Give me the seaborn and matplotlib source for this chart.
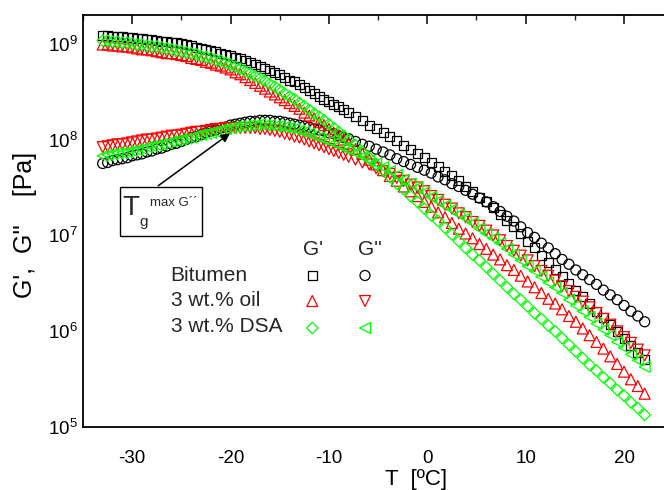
import matplotlib
matplotlib.use("Agg")
import numpy as np
import pandas as pd
import matplotlib.pyplot as plt
import seaborn as sns
from matplotlib.patches import Rectangle
from matplotlib.ticker import LogLocator, MultipleLocator, NullFormatter

# Temperature sweep [ºC]
temperature = [
    -33.0, -32.5, -32.0, -31.5, -31.0, -30.5, -30.0, -29.5, -29.0, -28.5,
    -28.0, -27.5, -27.0, -26.5, -26.0, -25.5, -25.0, -24.5, -24.0, -23.5,
    -23.0, -22.5, -22.0, -21.5, -21.0, -20.5, -20.0, -19.5, -19.0, -18.5,
    -18.0, -17.5, -17.0, -16.5, -16.0, -15.5, -15.0, -14.5, -14.0, -13.5,
    -13.0, -12.5, -12.0, -11.5, -11.0, -10.5, -10.0, -9.5, -9.0, -8.5, -8.0,
    -7.3, -6.6, -5.9, -5.2, -4.5, -3.8, -3.1, -2.4, -1.7, -1.0,
    -0.3, 0.4, 1.1, 1.8, 2.5, 3.2, 3.9, 4.6, 5.3, 6.0,
    6.7, 7.4, 8.1, 8.8, 9.5, 10.2, 10.9, 11.6, 12.3, 13.0,
    13.7, 14.4, 15.1, 15.8, 16.5, 17.2, 17.9, 18.6, 19.3, 20.0,
    20.7, 21.4, 22.1,
]

# log10 of the moduli [Pa]
bitumen_gp_log = [
    9.08, 9.08, 9.07, 9.07, 9.07, 9.06, 9.06, 9.05, 9.05, 9.04,
    9.04, 9.03, 9.02, 9.02, 9.01, 9.01, 9.00, 8.99, 8.98, 8.96,
    8.95, 8.94, 8.93, 8.92, 8.90, 8.89, 8.88, 8.86, 8.84, 8.82,
    8.80, 8.78, 8.76, 8.74, 8.72, 8.70, 8.68, 8.65, 8.62, 8.60,
    8.57, 8.54, 8.51, 8.48, 8.45, 8.42, 8.40, 8.37, 8.34, 8.31, 8.28,
    8.24, 8.20, 8.15, 8.11, 8.07, 8.03, 7.99, 7.94, 7.90, 7.85,
    7.81, 7.76, 7.72, 7.67, 7.62, 7.57, 7.51, 7.46, 7.40, 7.35,
    7.29, 7.22, 7.16, 7.09, 7.02, 6.94, 6.87, 6.79, 6.72, 6.65,
    6.57, 6.50, 6.43, 6.36, 6.29, 6.21, 6.14, 6.07, 6.00, 5.93,
    5.85, 5.78, 5.71,
]
bitumen_gpp_log = [
    7.75, 7.76, 7.78, 7.79, 7.80, 7.81, 7.83, 7.84, 7.85, 7.87,
    7.88, 7.90, 7.91, 7.93, 7.95, 7.96, 7.98, 8.00, 8.02, 8.03,
    8.05, 8.07, 8.09, 8.10, 8.12, 8.13, 8.15, 8.16, 8.17, 8.18,
    8.19, 8.19, 8.20, 8.20, 8.20, 8.19, 8.19, 8.18, 8.17, 8.16,
    8.15, 8.14, 8.13, 8.11, 8.10, 8.09, 8.07, 8.06, 8.04, 8.02, 8.01,
    7.98, 7.95, 7.93, 7.90, 7.87, 7.84, 7.80, 7.77, 7.74, 7.71,
    7.68, 7.65, 7.61, 7.58, 7.54, 7.51, 7.47, 7.43, 7.39, 7.35,
    7.30, 7.25, 7.20, 7.15, 7.09, 7.03, 6.98, 6.92, 6.87, 6.81,
    6.75, 6.70, 6.64, 6.59, 6.54, 6.49, 6.43, 6.38, 6.33, 6.27,
    6.21, 6.16, 6.10,
]
oil_gp_log = [
    8.99, 8.99, 8.98, 8.98, 8.97, 8.97, 8.96, 8.95, 8.94, 8.94,
    8.93, 8.92, 8.91, 8.90, 8.90, 8.89, 8.88, 8.87, 8.85, 8.84,
    8.83, 8.81, 8.80, 8.78, 8.77, 8.75, 8.73, 8.70, 8.68, 8.65,
    8.62, 8.59, 8.56, 8.53, 8.50, 8.47, 8.44, 8.41, 8.38, 8.35,
    8.32, 8.28, 8.25, 8.22, 8.18, 8.15, 8.11, 8.07, 8.04, 8.00, 7.96,
    7.90, 7.85, 7.79, 7.74, 7.68, 7.62, 7.57, 7.51, 7.46, 7.41,
    7.35, 7.30, 7.24, 7.19, 7.13, 7.07, 7.02, 6.97, 6.91, 6.86,
    6.80, 6.75, 6.69, 6.64, 6.58, 6.52, 6.46, 6.40, 6.34, 6.29,
    6.23, 6.16, 6.10, 6.03, 5.96, 5.89, 5.82, 5.74, 5.66, 5.58,
    5.50, 5.43, 5.35,
]
oil_gpp_log = [
    7.92, 7.93, 7.94, 7.95, 7.95, 7.96, 7.97, 7.98, 7.99, 8.00,
    8.00, 8.01, 8.02, 8.03, 8.04, 8.04, 8.05, 8.06, 8.07, 8.08,
    8.08, 8.09, 8.10, 8.11, 8.11, 8.12, 8.12, 8.12, 8.12, 8.12,
    8.12, 8.12, 8.11, 8.11, 8.10, 8.09, 8.08, 8.06, 8.05, 8.03,
    8.02, 8.00, 7.98, 7.96, 7.94, 7.92, 7.90, 7.88, 7.86, 7.84, 7.82,
    7.79, 7.76, 7.74, 7.70, 7.67, 7.64, 7.60, 7.57, 7.53, 7.50,
    7.46, 7.41, 7.37, 7.32, 7.28, 7.23, 7.19, 7.14, 7.10, 7.05,
    7.00, 6.95, 6.89, 6.84, 6.79, 6.74, 6.68, 6.63, 6.58, 6.53,
    6.47, 6.42, 6.36, 6.31, 6.25, 6.19, 6.13, 6.07, 6.00, 5.94,
    5.88, 5.81, 5.75,
]
dsa_gp_log = [
    9.03, 9.03, 9.02, 9.02, 9.01, 9.01, 9.00, 8.99, 8.99, 8.98,
    8.97, 8.97, 8.96, 8.95, 8.94, 8.93, 8.92, 8.91, 8.90, 8.89,
    8.87, 8.86, 8.85, 8.83, 8.82, 8.80, 8.78, 8.76, 8.74, 8.71,
    8.69, 8.66, 8.64, 8.61, 8.58, 8.55, 8.52, 8.48, 8.45, 8.42,
    8.38, 8.35, 8.31, 8.27, 8.24, 8.20, 8.16, 8.12, 8.08, 8.04, 8.00,
    7.94, 7.87, 7.81, 7.74, 7.68, 7.61, 7.54, 7.48, 7.41, 7.35,
    7.28, 7.21, 7.15, 7.08, 7.01, 6.94, 6.87, 6.80, 6.74, 6.67,
    6.60, 6.53, 6.46, 6.39, 6.33, 6.26, 6.19, 6.13, 6.06, 6.00,
    5.93, 5.86, 5.79, 5.72, 5.65, 5.59, 5.52, 5.46, 5.39, 5.33,
    5.26, 5.20, 5.13,
]
dsa_gpp_log = [
    7.83, 7.84, 7.85, 7.86, 7.86, 7.87, 7.88, 7.89, 7.90, 7.92,
    7.93, 7.94, 7.95, 7.96, 7.98, 7.99, 8.00, 8.01, 8.02, 8.04,
    8.05, 8.06, 8.07, 8.08, 8.10, 8.11, 8.12, 8.13, 8.14, 8.14,
    8.15, 8.15, 8.16, 8.15, 8.15, 8.14, 8.14, 8.13, 8.12, 8.11,
    8.09, 8.08, 8.06, 8.04, 8.02, 8.00, 7.98, 7.96, 7.94, 7.91, 7.89,
    7.86, 7.82, 7.78, 7.75, 7.71, 7.67, 7.63, 7.58, 7.54, 7.50,
    7.45, 7.40, 7.36, 7.31, 7.27, 7.22, 7.18, 7.13, 7.07, 7.02,
    6.97, 6.92, 6.86, 6.80, 6.74, 6.68, 6.63, 6.57, 6.51, 6.46,
    6.40, 6.33, 6.27, 6.21, 6.15, 6.08, 6.02, 5.96, 5.89, 5.83,
    5.76, 5.70, 5.63,
]

sample_labels = ["Bitumen", "3 wt.% oil", "3 wt.% DSA"]
modulus_labels = ["G'", "G''"]
x_ticks = [-30, -20, -10, 0, 10, 20]

# (sample, modulus, values, marker, colour, marker area)
series = [
    ("Bitumen", "G'", bitumen_gp_log, "s", "black", 42),
    ("Bitumen", "G''", bitumen_gpp_log, "o", "black", 52),
    ("3 wt.% oil", "G'", oil_gp_log, "^", "#ff0000", 62),
    ("3 wt.% oil", "G''", oil_gpp_log, "v", "#ff0000", 62),
    ("3 wt.% DSA", "G'", dsa_gp_log, "D", "#00ff00", 34),
    ("3 wt.% DSA", "G''", dsa_gpp_log, "<", "#00ff00", 62),
]

frames = []
for sample, modulus, vals, *_ in series:
    frames.append(pd.DataFrame({
        "T": temperature,
        "G": np.power(10.0, vals),
        "sample": sample,
        "modulus": modulus,
    }))
df = pd.concat(frames, ignore_index=True)

sns.set_theme(style="white")
plt.rcParams["font.family"] = ["Liberation Sans", "DejaVu Sans"]
plt.rcParams["mathtext.fontset"] = "custom"
plt.rcParams["mathtext.rm"] = "Liberation Sans"
plt.rcParams["mathtext.default"] = "regular"

W, H = 664, 490
fig = plt.figure(figsize=(W / 100, H / 100), dpi=100)
fig.patch.set_facecolor("white")
ax = fig.add_axes([83 / W, 1 - 427.3 / H, (673.2 - 83) / W, (427.3 - 14.7) / H])
ax.set_facecolor("white")

for sample, modulus, vals, marker, color, size in series:
    sub = df[(df["sample"] == sample) & (df["modulus"] == modulus)]
    sns.scatterplot(data=sub, x="T", y="G", ax=ax, marker=marker, s=size,
                    color=color, facecolor="none", edgecolor=color,
                    linewidth=0.9, legend=False, zorder=3)

ax.set_yscale("log")
ax.set_xlim(-35, 25)
ax.set_ylim(1e5, 2e9)
ax.set_xticks(x_ticks)
ax.set_xticklabels([str(t) for t in x_ticks])
ax.xaxis.set_minor_locator(MultipleLocator(5))
ax.yaxis.set_major_locator(LogLocator(base=10, numticks=10))
ax.yaxis.set_minor_locator(LogLocator(base=10, subs=np.arange(2, 10), numticks=20))
ax.yaxis.set_minor_formatter(NullFormatter())

for sp in ax.spines.values():
    sp.set_linewidth(1.3)
    sp.set_color("black")
ax.tick_params(which="major", direction="in", length=6.8, width=1.1,
               top=True, right=True, labelsize=13.5, colors="black")
ax.tick_params(which="minor", direction="in", length=3.6, width=1.0,
               top=True, right=True)
ax.tick_params(axis="x", which="major", pad=16)
ax.tick_params(axis="y", which="major", pad=4)

ax.set_xlabel("T  [ºC]", fontsize=16, color="black")
ax.set_ylabel("G',  G''    [Pa]", fontsize=18, color="black")
ax.xaxis.set_label_coords((416 - 83) / (673.2 - 83), -0.1)
ax.yaxis.set_label_coords((37 - 83) / (673.2 - 83), 0.49)
ax.grid(False)

# Legend laid out as a small table: rows = samples, columns = G', G''
def fx(px):
    return px / W

def fy(py):
    return 1 - py / H

fig.text(fx(313), fy(249.5), modulus_labels[0], fontsize=15, ha="center", va="center")
fig.text(fx(370), fy(249.5), modulus_labels[1], fontsize=15, ha="center", va="center")
row_y = [275.7, 300.8, 326.5]
mark_y = [275.5, 301.0, 328.0]
for i, (label, y) in enumerate(zip(sample_labels, row_y)):
    fig.text(fx(170.7), fy(y), label, fontsize=15, ha="left", va="center")
    for j, xm in enumerate([312.3, 365.0]):
        _, _, _, marker, color, size = series[2 * i + j]
        ax.scatter([fx(xm)], [fy(mark_y[i])], transform=fig.transFigure,
                   marker=marker, s=size, facecolor="none", edgecolor=color,
                   linewidth=0.9, clip_on=False, zorder=5)

# Annotation box for the glass transition at maximum G''
box = Rectangle((fx(120), fy(236)), fx(201.7) - fx(120), fy(186.7) - fy(236),
                transform=fig.transFigure, facecolor="white", edgecolor="black",
                linewidth=1.0, zorder=6)
fig.patches.append(box)
fig.text(fx(131), fy(208), "T", fontsize=20, ha="center", va="center", zorder=7)
fig.text(fx(143.5), fy(222), "g", fontsize=11, ha="center", va="center", zorder=7)
fig.text(fx(150), fy(202.5), "max G´´", fontsize=9.5, ha="left", va="center", zorder=7)
ax.annotate("", xy=(230, H - 133.3), xycoords="figure pixels",
            xytext=(158.3, H - 185.7), textcoords="figure pixels",
            arrowprops=dict(arrowstyle="-|>", color="black", lw=1.1,
                            mutation_scale=13, shrinkA=0, shrinkB=0),
            zorder=7)

fig.savefig("out.png", dpi=100, facecolor="white")
